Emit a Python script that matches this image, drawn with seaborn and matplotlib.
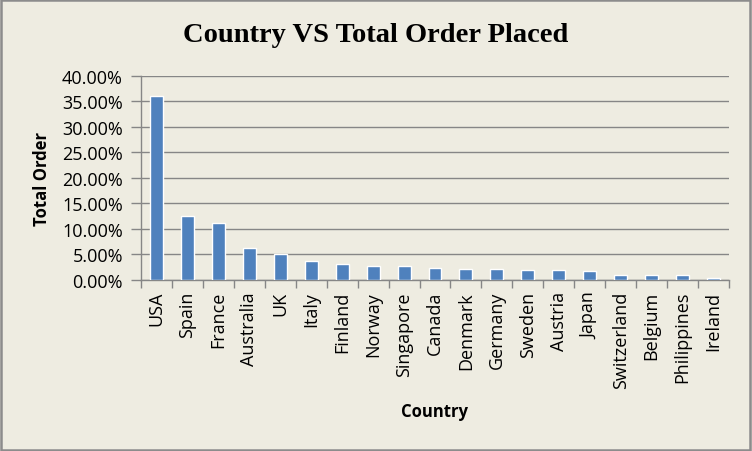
import matplotlib
matplotlib.use("Agg")
import matplotlib.pyplot as plt
import seaborn as sns
import pandas as pd
import numpy as np
from matplotlib.ticker import FixedLocator, FuncFormatter
from matplotlib.patches import Rectangle

countries = ["USA", "Spain", "France", "Australia", "UK", "Italy", "Finland", "Norway",
             "Singapore", "Canada", "Denmark", "Germany", "Sweden", "Austria", "Japan",
             "Switzerland", "Belgium", "Philippines", "Ireland"]
share = [36.0, 12.5, 11.15, 6.26, 5.09, 3.7, 3.1, 2.75, 2.75, 2.37, 2.18, 2.18, 1.99,
         1.99, 1.79, 1.03, 1.03, 1.03, 0.45]
y_ticks = [0, 5, 10, 15, 20, 25, 30, 35, 40]

df = pd.DataFrame({"Country": countries, "Share": share})

sns.set_theme(style="white")
bg = "#EEECE1"
plt.rcParams["font.family"] = ["Open Sans", "DejaVu Sans"]
plt.rcParams["text.color"] = "black"

fig = plt.figure(figsize=(7.52, 4.52), dpi=100, facecolor=bg)
ax = fig.add_axes([141/752, 1-281/452, (729-141)/752, (281-76.7)/452])
ax.set_facecolor(bg)

sns.barplot(data=df, x="Country", y="Share", color="#4F81BD", width=0.42,
            saturation=1, ax=ax, zorder=3)

ax.set_xlim(-0.5, len(countries)-0.5)
ax.set_ylim(0, 40)
ax.yaxis.set_major_locator(FixedLocator(y_ticks))
ax.yaxis.set_major_formatter(FuncFormatter(lambda v, p: f"{v:.2f}%"))
ax.grid(axis="y", color="#868686", linewidth=1.0, zorder=0)
ax.set_axisbelow(True)

for s in ["top", "right"]:
    ax.spines[s].set_visible(False)
for s in ["left", "bottom"]:
    ax.spines[s].set_color("#868686")
    ax.spines[s].set_linewidth(1.0)

ax.tick_params(axis="y", which="major", direction="out", length=7, width=1,
               color="#868686", labelsize=13, pad=6, left=True, labelcolor="black")
ax.tick_params(axis="x", which="major", length=0, labelsize=13, labelrotation=90,
               pad=8, labelcolor="black")
ax.xaxis.set_minor_locator(FixedLocator(np.arange(-0.5, len(countries), 1.0)))
ax.tick_params(axis="x", which="minor", direction="out", length=6, width=1,
               color="#868686", bottom=True)

ax.set_xlabel("")
ax.set_ylabel("")

fig.text(0.5, 1-36/452, "Country VS Total Order Placed", ha="center", va="center",
         fontsize=20.5, fontweight="bold", color="black",
         family=["Liberation Serif", "DejaVu Serif"])
fig.text(435/752, 1-412/452, "Country", ha="center", va="center",
         fontsize=12, fontweight="bold", color="black")
fig.text(42/752, 1-179/452, "Total Order", ha="center", va="center",
         fontsize=12, fontweight="bold", rotation=90, color="black")

fig.add_artist(Rectangle((0.001, 0.002), 0.997, 0.996, transform=fig.transFigure,
                         fill=False, edgecolor="#8C8C8C", linewidth=1.8))

fig.savefig("out.png", dpi=100, facecolor=bg)
